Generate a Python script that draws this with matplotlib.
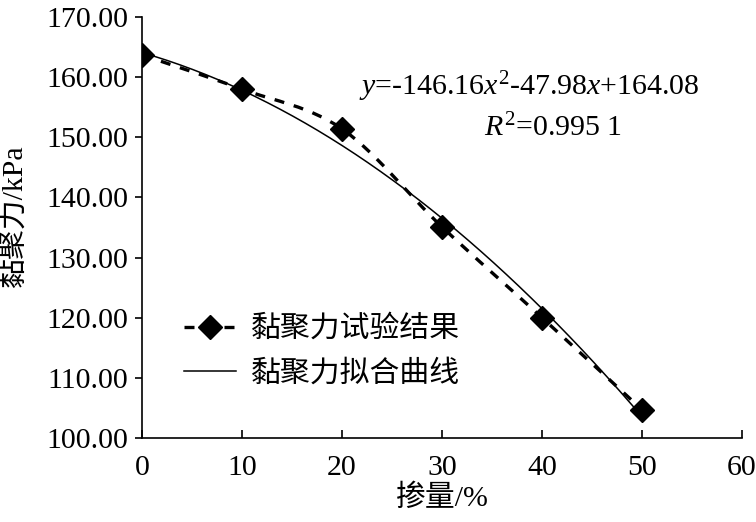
import numpy as np
import matplotlib
matplotlib.use('Agg')
import matplotlib.pyplot as plt
from matplotlib.path import Path
from matplotlib.patches import PathPatch
from matplotlib.lines import Line2D

plt.rcParams['font.family'] = ['Liberation Serif', 'Noto Sans CJK SC']
plt.rcParams['mathtext.fontset'] = 'custom'
plt.rcParams['mathtext.rm'] = 'Liberation Serif'
plt.rcParams['mathtext.it'] = 'Liberation Serif:italic'

# Test data: dosage (%) and cohesion (kPa)
dosage = [0, 10, 20, 30, 40, 50]
cohesion = [163.7, 158.0, 151.4, 135.1, 120.0, 104.7]
# Quadratic fit shown on the chart (x as fraction)
fit_coef = [-146.16, -47.98, 164.08]

FS = 21.5

fig = plt.figure(figsize=(7.56, 5.22), dpi=100)
ax = fig.add_axes([0.1878, 0.161, 0.7937, 0.8064])

# smoothed dashed line through test points (Catmull-Rom as Bezier)
pts = np.column_stack([dosage, cohesion]).astype(float)
ext = np.vstack([pts[0], pts, pts[-1]])
verts = [tuple(pts[0])]
codes = [Path.MOVETO]
for i in range(len(pts) - 1):
    p0, p1, p2, p3 = ext[i], ext[i + 1], ext[i + 2], ext[i + 3]
    c1 = p1 + (p2 - p0) / 6
    c2 = p2 - (p3 - p1) / 6
    verts += [tuple(c1), tuple(c2), tuple(p2)]
    codes += [Path.CURVE4] * 3
ax.add_patch(PathPatch(Path(verts, codes), fill=False, ec='black', lw=2.4,
                       ls=(0, (3, 3)), zorder=2))
ax.plot(dosage, cohesion, ls='none', marker='D', ms=12, color='black', zorder=4)

xf = np.linspace(0, 50, 200)
ax.plot(xf, np.polyval(fit_coef, xf / 100), color='black', lw=1.1, zorder=3)

ax.set_xlim(0, 60)
ax.set_ylim(100, 170)
ax.set_xticks(range(0, 61, 10))
ax.set_yticks(range(100, 171, 10))
ax.set_yticklabels([f'{v:.2f}' for v in range(100, 171, 10)])
ax.tick_params(axis='x', direction='in', length=6, width=1.2, labelsize=FS, pad=12)
ax.tick_params(axis='y', direction='out', length=5, width=1.2, labelsize=FS, pad=5)
for s in ['top', 'right']:
    ax.spines[s].set_visible(False)
for s in ['left', 'bottom']:
    ax.spines[s].set_linewidth(1.2)

ax.set_xlabel('掺量/%', fontsize=FS, labelpad=3)
ax.set_ylabel('黏聚力/kPa', fontsize=FS, labelpad=4)
ax.yaxis.set_label_coords(-0.19, 0.527)

ax.text(0.646, 0.835, r'$y$=-146.16$x^2$-47.98$x$+164.08', transform=ax.transAxes,
        fontsize=FS, ha='center', va='center')
ax.text(0.685, 0.737, r'$R^2$=0.995 1', transform=ax.transAxes,
        fontsize=FS, ha='center', va='center')

handles = [Line2D([], [], color='black', lw=2.4, ls=(0, (3, 3)), marker='D', ms=12),
           Line2D([], [], color='black', lw=1.1)]
ax.legend(handles, ['黏聚力试验结果', '黏聚力拟合曲线'], loc='upper left',
          bbox_to_anchor=(0.025, 0.355), frameon=False, fontsize=FS,
          handlelength=1.75, handletextpad=0.5, labelspacing=0.55)

fig.savefig('out.png', dpi=100)
